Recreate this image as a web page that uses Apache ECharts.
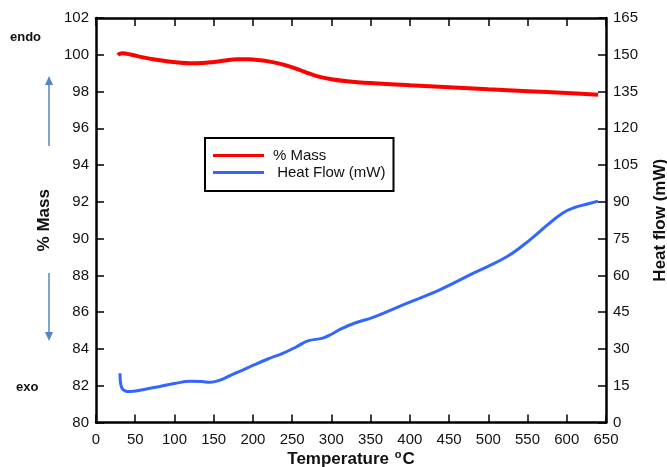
<!DOCTYPE html>
<html>
<head>
<meta charset="utf-8">
<script src="https://cdn.jsdelivr.net/npm/echarts@6/dist/echarts.min.js"></script>
<style>
  html, body { margin: 0; padding: 0; background: #fff; }
  #chart { width: 667px; height: 467px; }
</style>
</head>
<body>
<div id="chart"></div>
<script>
// Thermogravimetric run: sample mass (%) and heat flow (mW) against temperature (°C)
const massTemp   = [28, 30, 34, 45, 60, 75, 90, 105, 120, 135, 150, 165, 180, 195, 210, 225, 240, 255, 265, 275, 285, 300, 320, 350, 400, 450, 500, 550, 600, 640];
const massValues = [99.98, 100.05, 100.08, 100.0, 99.86, 99.74, 99.65, 99.58, 99.54, 99.55, 99.61, 99.69, 99.75, 99.76, 99.70, 99.60, 99.45, 99.25, 99.08, 98.93, 98.80, 98.67, 98.56, 98.46, 98.34, 98.24, 98.12, 98.02, 97.92, 97.83];

const heatTemp   = [30.6, 31, 33, 37, 43, 60, 80, 100, 120, 135, 145, 158, 170, 187, 200, 219, 238, 255, 270, 289, 300, 311, 330, 353, 396, 438, 481, 524, 553, 575, 595, 610, 625, 640];
const heatValues = [20.1, 17.0, 14.0, 12.9, 12.6, 13.4, 14.6, 15.9, 16.8, 16.7, 16.4, 17.3, 19.0, 21.4, 23.3, 25.9, 28.2, 30.8, 33.3, 34.4, 36.0, 38.0, 40.6, 42.9, 48.6, 54.1, 60.9, 67.7, 74.5, 80.5, 85.5, 87.7, 89.0, 90.3];

const tempTicks = { min: 0, max: 650, step: 50 };
const massTicks = { min: 80, max: 102, step: 2 };
const heatTicks = { min: 0, max: 165, step: 15 };

const FONT = 'Liberation Sans, Arial, sans-serif';
const massSeries = massTemp.map((t, i) => [t, massValues[i]]);
const heatSeries = heatTemp.map((t, i) => [t, heatValues[i]]);

function frameLine() { return { show: true, onZero: false, lineStyle: { color: '#000', width: 2.5 } }; }
function innerTick() { return { show: true, inside: true, length: 8, lineStyle: { color: '#000', width: 1.5 } }; }
function tickLabel(margin) { return { margin, color: '#111', fontSize: 15, fontFamily: FONT }; }

const chart = echarts.init(document.getElementById('chart'), null, { renderer: 'canvas' });
chart.setOption({
  animation: false,
  backgroundColor: '#fff',
  grid: { left: 96, right: 61, top: 18, bottom: 44.5, containLabel: false, outerBoundsMode: 'none' },
  legend: {
    orient: 'vertical',
    left: 205, top: 138,
    padding: [9, 8, 10, 8],
    itemGap: 0,
    itemWidth: 51, itemHeight: 3,
    borderColor: '#000', borderWidth: 2,
    backgroundColor: '#fff',
    textStyle: { color: '#111', fontSize: 15, fontFamily: FONT, lineHeight: 17, padding: [0, 0, 0, 4] },
    data: [
      { name: '% Mass', icon: 'rect' },
      { name: ' Heat Flow (mW)', icon: 'rect' }
    ]
  },
  xAxis: [
    {
      type: 'value', position: 'bottom',
      min: tempTicks.min, max: tempTicks.max, interval: tempTicks.step,
      axisLine: frameLine(), axisTick: innerTick(),
      axisLabel: tickLabel(10),
      splitLine: { show: false },
      name: 'Temperature {sup|o}C',
      nameLocation: 'middle', nameGap: 27, nameMoveOverlap: false,
      nameTextStyle: {
        fontSize: 17, fontWeight: 'bold', color: '#111', fontFamily: FONT, lineHeight: 20,
        rich: { sup: { fontSize: 11, fontWeight: 'bold', fontFamily: FONT, color: '#111', verticalAlign: 'top', lineHeight: 11, padding: [0, 1, 8, 1] } }
      }
    },
    {
      type: 'value', position: 'top',
      min: tempTicks.min, max: tempTicks.max, interval: tempTicks.step,
      axisLine: frameLine(), axisTick: innerTick(),
      axisLabel: { show: false }, splitLine: { show: false }
    }
  ],
  yAxis: [
    {
      type: 'value', position: 'left',
      min: massTicks.min, max: massTicks.max, interval: massTicks.step,
      axisLine: frameLine(), axisTick: innerTick(),
      axisLabel: tickLabel(7),
      splitLine: { show: false },
      name: '% Mass', nameLocation: 'middle', nameGap: 43, nameRotate: 90, nameMoveOverlap: false,
      nameTextStyle: { fontSize: 17, fontWeight: 'bold', color: '#111', fontFamily: FONT }
    },
    {
      type: 'value', position: 'right',
      min: heatTicks.min, max: heatTicks.max, interval: heatTicks.step,
      axisLine: frameLine(), axisTick: innerTick(),
      axisLabel: tickLabel(7),
      splitLine: { show: false },
      name: 'Heat flow (mW)', nameLocation: 'middle', nameGap: 46, nameRotate: 90, nameMoveOverlap: false,
      nameTextStyle: { fontSize: 17, fontWeight: 'bold', color: '#111', fontFamily: FONT }
    }
  ],
  series: [
    {
      name: '% Mass', type: 'line', xAxisIndex: 0, yAxisIndex: 0,
      data: massSeries, smooth: 0.4, showSymbol: false,
      lineStyle: { color: '#ff0000', width: 4 }, itemStyle: { color: '#ff0000' }, z: 3
    },
    {
      name: ' Heat Flow (mW)', type: 'line', xAxisIndex: 0, yAxisIndex: 1,
      data: heatSeries, smooth: 0.4, showSymbol: false,
      lineStyle: { color: '#3366ff', width: 3 }, itemStyle: { color: '#3366ff' }, z: 2
    }
  ],
  graphic: [
    { type: 'text', left: 10, top: 31, style: { text: 'endo', fontSize: 13, fontWeight: 'bold', fill: '#111', fontFamily: FONT } },
    { type: 'text', left: 16, top: 381, style: { text: 'exo', fontSize: 13, fontWeight: 'bold', fill: '#111', fontFamily: FONT } },
    // endothermic direction arrow
    { type: 'line', shape: { x1: 49, y1: 146, x2: 49, y2: 84 }, style: { stroke: '#5585c0', lineWidth: 1.5 } },
    { type: 'polygon', shape: { points: [[49, 76], [45, 85], [53, 85]] }, style: { fill: '#5585c0' } },
    // exothermic direction arrow
    { type: 'line', shape: { x1: 49, y1: 273, x2: 49, y2: 333 }, style: { stroke: '#5585c0', lineWidth: 1.5 } },
    { type: 'polygon', shape: { points: [[49, 341], [45, 332], [53, 332]] }, style: { fill: '#5585c0' } }
  ]
});
</script>
</body>
</html>
